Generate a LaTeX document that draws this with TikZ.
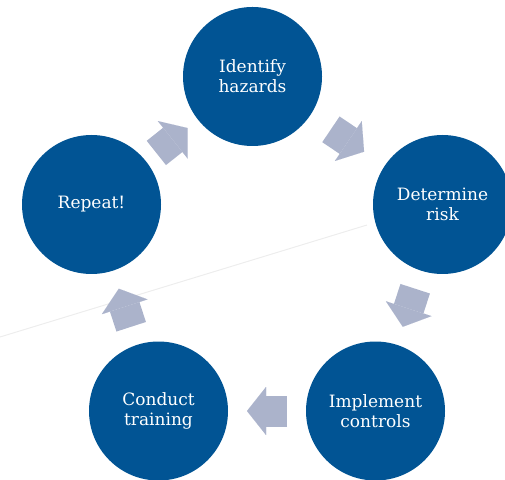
\documentclass[tikz,border=0pt]{standalone}
\usepackage{fontspec}
\setmainfont{DejaVu Serif}
\usetikzlibrary{arrows.meta,calc}

\definecolor{stageblue}{RGB}{1,84,148}
\definecolor{arrowgrey}{RGB}{171,179,203}

\tikzset{
  stage/.style={circle, fill=stageblue, minimum size=139pt, inner sep=0pt,
    text=white, align=center, font=\fontsize{17}{20}\selectfont},
  cyclearrow/.style={draw=arrowgrey, line width=31pt,
    -{Triangle[width=48pt,length=19pt,line width=0.01pt]}}
}

\begin{document}
\begin{tikzpicture}[x=1pt,y=1pt]
  \useasboundingbox (0,0) rectangle (505,479);

  % faint line across the background
  \draw[black!7, line width=1pt] (0,142) -- (367,254);

  % the five stages of the cycle
  \node[stage] (identify) at (252.5,402.5) {Identify\\hazards};
  \node[stage] (risk) at (442.5,274.5) {Determine\\risk};
  \node[stage] (implement) at (375.5,68) {Implement\\controls};
  \node[stage] (training) at (158.5,68) {Conduct\\training};
  \node[stage] (repeat) at (91.5,274.5) {Repeat!};

  % block arrows, centred in each gap
  \foreach \a/\b in {identify/risk, risk/implement, implement/training,
                     training/repeat, repeat/identify}{
    \path (\a) -- coordinate (mid) (\b);
    \draw[cyclearrow] ($(mid)!20pt!(\a)$) -- ($(mid)!20pt!(\b)$);
  }
\end{tikzpicture}
\end{document}
